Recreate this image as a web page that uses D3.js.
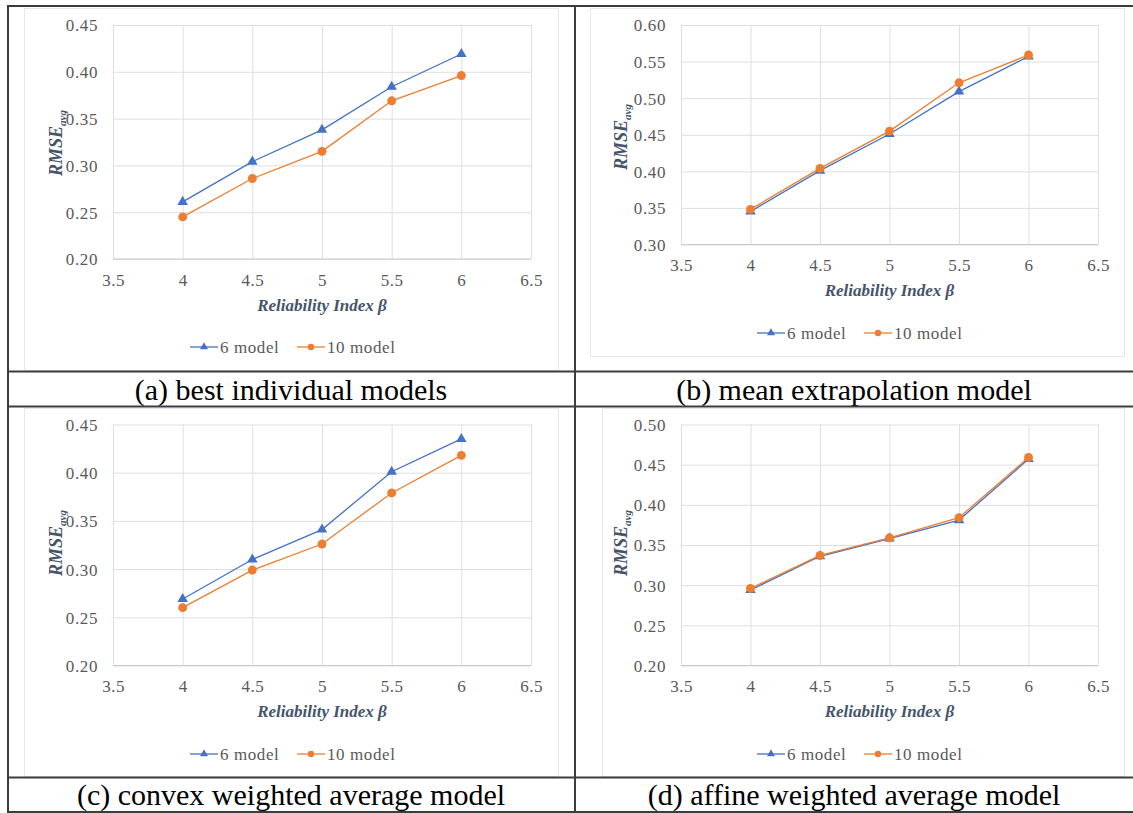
<!DOCTYPE html>
<html>
<head>
<meta charset="utf-8">
<script src="https://cdn.jsdelivr.net/npm/d3@7"></script>
<style>
  body { margin: 0; background: #fff; }
  svg { display: block; }
</style>
</head>
<body>
<svg id="fig" width="1133" height="813"></svg>
<script>
// reliability index (x values shared by all panels)
const betas = [4, 4.5, 5, 5.5, 6];
const xTicks = [3.5, 4, 4.5, 5, 5.5, 6, 6.5];
const seriesNames = ["6 model", "10 model"];

// RMSE_avg
const bestSix = [0.261, 0.304, 0.338, 0.384, 0.419];
const bestTen = [0.245, 0.286, 0.315, 0.369, 0.396];
const meanSix = [0.345, 0.401, 0.451, 0.509, 0.557];
const meanTen = [0.348, 0.404, 0.455, 0.521, 0.559];
const convexSix = [0.269, 0.310, 0.341, 0.401, 0.435];
const convexTen = [0.260, 0.299, 0.326, 0.379, 0.418];
const affineSix = [0.294, 0.336, 0.358, 0.381, 0.457];
const affineTen = [0.296, 0.337, 0.359, 0.384, 0.459];

// y tick values per panel
const yTicksA = [0.20, 0.25, 0.30, 0.35, 0.40, 0.45];
const yTicksB = [0.30, 0.35, 0.40, 0.45, 0.50, 0.55, 0.60];
const yTicksC = [0.20, 0.25, 0.30, 0.35, 0.40, 0.45];
const yTicksD = [0.20, 0.25, 0.30, 0.35, 0.40, 0.45, 0.50];

const captions = ["(a) best individual models", "(b) mean extrapolation model",
                  "(c) convex weighted average model", "(d) affine weighted average model"];

const blue = "#4472C4", orange = "#ED7D31";
const FONT = "'Liberation Serif'";

const svg = d3.select("#fig");

// table lines
const lineCol = "#3c3c3c";
function hline(y, x1, x2) {
    svg.append("line").attr("x1", x1).attr("x2", x2).attr("y1", y).attr("y2", y)
        .attr("stroke", lineCol).attr("stroke-width", 2);
}
function vline(x, y1, y2) {
    svg.append("line").attr("x1", x).attr("x2", x).attr("y1", y1).attr("y2", y2)
        .attr("stroke", lineCol).attr("stroke-width", 2);
}

// faint frames of the pasted chart pictures
const frames = [[24, 8, 534, 362], [590, 8, 534, 348], [24, 408, 534, 368], [602, 408, 522, 368]];
frames.forEach(f => {
    svg.append("rect").attr("x", f[0] + 0.5).attr("y", f[1] + 0.5)
        .attr("width", f[2]).attr("height", f[3])
        .attr("fill", "none").attr("stroke", "#e4e8ec").attr("stroke-width", 1);
});

function drawPanel(p) {
    const x = d3.scaleLinear().domain([3.5, 6.5]).range([p.x0, p.x1]);
    const y = d3.scaleLinear().domain([p.yTicks[0], p.yTicks[p.yTicks.length - 1]]).range([p.y0, p.y1]);
    const g = svg.append("g");

    // gridlines
    g.append("g")
        .attr("transform", "translate(0," + p.y0 + ")")
        .call(d3.axisBottom(x).tickValues(xTicks).tickSize(p.y1 - p.y0).tickFormat(""))
        .call(s => s.select(".domain").remove())
        .call(s => s.selectAll("line").attr("stroke", "#dcdfe3"));
    g.append("g")
        .attr("transform", "translate(" + p.x0 + ",0)")
        .call(d3.axisLeft(y).tickValues(p.yTicks).tickSize(p.x0 - p.x1).tickFormat(""))
        .call(s => s.select(".domain").remove())
        .call(s => s.selectAll("line").attr("stroke", "#dcdfe3"));
    // bottom axis line
    g.append("line").attr("x1", p.x0).attr("x2", p.x1).attr("y1", p.y0).attr("y2", p.y0)
        .attr("stroke", "#c8ccd0").attr("stroke-width", 1.2);

    // tick labels
    g.append("g")
        .attr("transform", "translate(0," + (p.y0 + 21) + ")")
        .call(d3.axisBottom(x).tickValues(xTicks).tickSize(0).tickFormat(d => d))
        .call(s => s.select(".domain").remove())
        .selectAll("text")
        .attr("y", 0).attr("dy", "0.35em")
        .style("font-family", FONT).style("font-size", "17px").attr("letter-spacing", 0.5)
        .attr("fill", "#595959");
    g.append("g")
        .attr("transform", "translate(" + (p.x0 - 15) + ",0)")
        .call(d3.axisLeft(y).tickValues(p.yTicks).tickSize(0).tickFormat(d3.format(".2f")))
        .call(s => s.select(".domain").remove())
        .selectAll("text")
        .attr("dy", "0.35em").attr("x", 0)
        .style("font-family", FONT).style("font-size", "17px").attr("letter-spacing", 0.6)
        .attr("fill", "#595959");

    // axis titles
    g.append("text")
        .attr("x", (p.x0 + p.x1) / 2).attr("y", p.y0 + 46).attr("dy", "0.35em")
        .attr("text-anchor", "middle")
        .style("font-family", FONT).style("font-size", "17px")
        .style("font-weight", "bold").style("font-style", "italic")
        .attr("fill", "#44546A")
        .text("Reliability Index \u03B2");
    const yt = g.append("text")
        .attr("transform", "translate(" + p.ytx + "," + p.yty + ") rotate(-90)")
        .attr("text-anchor", "middle")
        .style("font-family", FONT)
        .style("font-weight", "bold").style("font-style", "italic")
        .attr("fill", "#44546A");
    yt.append("tspan").style("font-size", "18px").text("RMSE");
    yt.append("tspan").style("font-size", "11px").attr("dy", 4).text("avg");

    // series
    const series = [
        {vals: p.six, color: blue, sym: d3.symbolTriangle, size: 48},
        {vals: p.ten, color: orange, sym: d3.symbolCircle, size: 62}
    ];
    const line = d3.line().x((d, i) => x(betas[i])).y(d => y(d));
    series.forEach(s => {
        g.append("path").datum(s.vals).attr("d", line)
            .attr("fill", "none").attr("stroke", s.color).attr("stroke-width", 1.3);
        g.selectAll(null).data(s.vals).enter().append("path")
            .attr("transform", (d, i) => "translate(" + x(betas[i]) + "," + y(d) + ")")
            .attr("d", d3.symbol().type(s.sym).size(s.size))
            .attr("fill", s.color);
    });

    // legend
    const leg = g.append("g").attr("transform", "translate(" + p.lx + "," + p.ly + ")");
    const items = [
        {name: seriesNames[0], color: blue, sym: d3.symbolTriangle, size: 28, off: 0},
        {name: seriesNames[1], color: orange, sym: d3.symbolCircle, size: 32, off: 107}
    ];
    items.forEach(it => {
        leg.append("line").attr("x1", it.off).attr("x2", it.off + 28).attr("y1", 0).attr("y2", 0)
            .attr("stroke", it.color).attr("stroke-width", 1.3);
        leg.append("path").attr("transform", "translate(" + (it.off + 14) + ",0)")
            .attr("d", d3.symbol().type(it.sym).size(it.size)).attr("fill", it.color);
        leg.append("text").attr("x", it.off + 30).attr("y", 0).attr("dy", "0.35em")
            .style("font-family", FONT).style("font-size", "17px").attr("letter-spacing", 0.6)
            .attr("fill", "#595959")
            .text(it.name);
    });

    // caption
    svg.append("text")
        .attr("x", p.cx).attr("y", p.cy)
        .attr("text-anchor", "middle")
        .style("font-family", FONT).style("font-size", "30px")
        .attr("fill", "#000")
        .text(p.caption);
}

drawPanel({x0: 113, x1: 531, y0: 259, y1: 25, yTicks: yTicksA, six: bestSix, ten: bestTen,
           ytx: 62, yty: 143, lx: 190, ly: 347, cx: 291, cy: 399.5, caption: captions[0]});
drawPanel({x0: 681, x1: 1098, y0: 244.5, y1: 25, yTicks: yTicksB, six: meanSix, ten: meanTen,
           ytx: 627, yty: 137, lx: 757, ly: 333, cx: 854, cy: 399.5, caption: captions[1]});
drawPanel({x0: 113, x1: 531, y0: 665.5, y1: 424.5, yTicks: yTicksC, six: convexSix, ten: convexTen,
           ytx: 62, yty: 543, lx: 190, ly: 754, cx: 291, cy: 805, caption: captions[2]});
drawPanel({x0: 681, x1: 1098, y0: 665.5, y1: 424.5, yTicks: yTicksD, six: affineSix, ten: affineTen,
           ytx: 627, yty: 543, lx: 757, ly: 754, cx: 854, cy: 805, caption: captions[3]});

// table borders
hline(6, 7, 1133);
hline(371.5, 7, 1133);
hline(406.5, 7, 1133);
hline(777.5, 7, 1133);
hline(812, 7, 1133);
vline(8, 5, 813);
vline(575, 5, 813);
</script>
</body>
</html>
